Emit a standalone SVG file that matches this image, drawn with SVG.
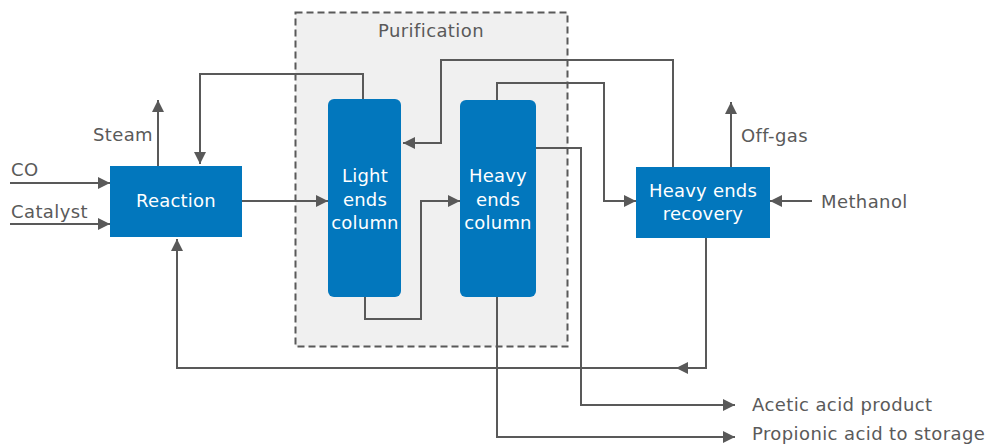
<svg xmlns="http://www.w3.org/2000/svg" width="994" height="445" viewBox="0 0 994 445">
<style>
.box{fill:#0277bd}
.lbl{font-family:"DejaVu Sans","Liberation Sans",sans-serif;font-size:18px;letter-spacing:0.4px;fill:#5a5a5a}
.wt{font-family:"DejaVu Sans","Liberation Sans",sans-serif;font-size:18px;letter-spacing:0.2px;fill:#ffffff;text-anchor:middle}
.ln{fill:none;stroke:#595959;stroke-width:2;marker-end:url(#ah)}
</style>
<defs>
<marker id="ah" markerUnits="userSpaceOnUse" markerWidth="14" markerHeight="14" refX="12" refY="6" orient="auto">
<path d="M0,0 L12,6 L0,12 z" fill="#595959"/>
</marker>
</defs>
<rect width="994" height="445" fill="#ffffff"/>
<g id="purification">
<rect x="295.500" y="12.500" width="272" height="334" fill="#f0f0f0" stroke="#595959" stroke-width="2" stroke-dasharray="7,4"/>
<text class="lbl" x="431" y="37" text-anchor="middle">Purification</text>
</g>
<g id="connectors">
<path class="ln" d="M158,166 V100"/>
<path class="ln" d="M10,183 H110"/>
<path class="ln" d="M10,224 H110"/>
<path class="ln" d="M363,99 V74 H200 V164"/>
<path class="ln" d="M242,201 H328"/>
<path class="ln" d="M365,297 V319 H421 V201 H460"/>
<path class="ln" d="M673,167 V60 H441 V143 H403"/>
<path class="ln" d="M497,100 V83 H604 V201 H636"/>
<path class="ln" d="M536,148 H581 V405 H735"/>
<path class="ln" d="M497,297 V437 H735"/>
<path class="ln" d="M731,167 V102"/>
<path class="ln" d="M812,201 H770"/>
<path class="ln" d="M706,238 V368 H676"/>
<path class="ln" d="M678,368 H177 V239"/>
</g>
<g id="reaction">
<rect class="box" x="110" y="166" width="132" height="71"/>
<text class="wt" x="176" y="207">Reaction</text>
</g>
<g id="light-ends">
<rect class="box" x="328" y="99" width="73" height="198" rx="6"/>
<text class="wt" x="365" y="182">Light</text>
<text class="wt" x="365" y="206">ends</text>
<text class="wt" x="365" y="229">column</text>
</g>
<g id="heavy-ends">
<rect class="box" x="460" y="100" width="76" height="197" rx="6"/>
<text class="wt" x="498" y="182">Heavy</text>
<text class="wt" x="498" y="206">ends</text>
<text class="wt" x="498" y="229">column</text>
</g>
<g id="recovery">
<rect class="box" x="636" y="167" width="134" height="71"/>
<text class="wt" x="703" y="197">Heavy ends</text>
<text class="wt" x="703" y="220">recovery</text>
</g>
<g id="labels">
<text class="lbl" x="153" y="141" text-anchor="end">Steam</text>
<text class="lbl" x="11" y="176">CO</text>
<text class="lbl" x="11" y="218">Catalyst</text>
<text class="lbl" x="741" y="142">Off-gas</text>
<text class="lbl" x="821" y="208">Methanol</text>
<text class="lbl" x="752" y="411">Acetic acid product</text>
<text class="lbl" x="752" y="440">Propionic acid to storage</text>
</g>
</svg>
